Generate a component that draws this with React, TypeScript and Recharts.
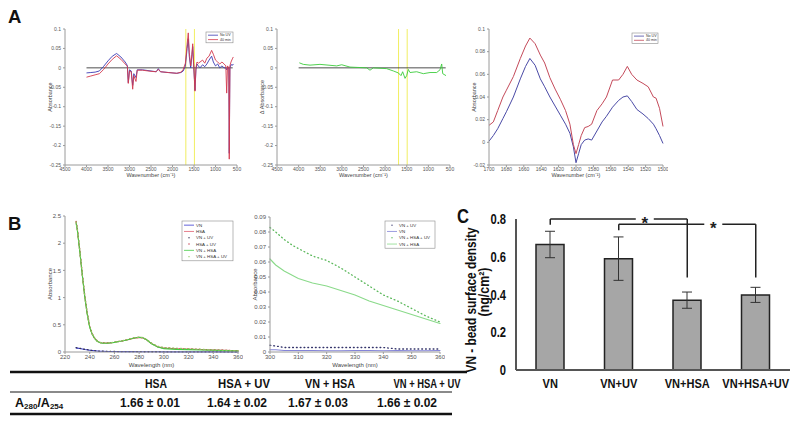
import React from 'react';
import { LineChart, Line, XAxis, YAxis, ReferenceLine, BarChart, Bar, ErrorBar } from 'recharts';

// ---- panel A1: FTIR spectra, no UV vs 40 min ----
const ftirWavenumber = [4000, 3900, 3800, 3700, 3600, 3500, 3400, 3300, 3200, 3100, 3050, 3028, 3000, 2960, 2926, 2900, 2849, 2820, 2700, 2500, 2380, 2330, 2280, 2100, 1900, 1800, 1750, 1700, 1660, 1633, 1610, 1577, 1550, 1530, 1510, 1490, 1477, 1455, 1430, 1400, 1360, 1300, 1250, 1200, 1150, 1090, 1050, 1000, 950, 900, 850, 800, 760, 740, 720, 690, 680, 665, 640, 600, 586];
const ftirNoUv = [-0.013, -0.012, -0.011, -0.008, 0.004, 0.018, 0.03, 0.037, 0.028, 0.015, 0.006, -0.038, -0.005, -0.008, -0.045, -0.015, -0.025, -0.005, -0.005, -0.008, -0.01, -0.002, -0.01, -0.012, -0.014, -0.012, -0.008, 0.005, 0.05, 0.075, 0.03, 0.0, 0.03, 0.055, 0.01, -0.03, -0.058, -0.005, 0.01, 0.005, 0.0, 0.008, 0.003, 0.01, 0.02, 0.03, 0.015, 0.005, 0.01, 0.0, 0.005, 0.0, 0.0, -0.005, 0.0, 0.0, -0.22, 0.0, 0.008, 0.007, 0.01];
const ftir40min = [-0.024, -0.021, -0.018, -0.015, -0.004, 0.01, 0.022, 0.031, 0.022, 0.01, 0.004, -0.04, -0.008, -0.01, -0.055, -0.02, -0.035, -0.006, -0.006, -0.009, -0.01, -0.004, -0.01, -0.012, -0.014, -0.011, -0.004, 0.012, 0.06, 0.09, 0.04, 0.005, 0.035, 0.062, 0.015, -0.03, -0.06, 0.0, 0.015, 0.012, 0.015, 0.02, 0.012, 0.025, 0.03, 0.045, 0.035, 0.02, 0.015, 0.01, 0.015, 0.01, 0.005, -0.065, 0.005, 0.0, -0.235, 0.005, 0.015, 0.025, 0.028];
const ftirTicksX = [4500, 4000, 3500, 3000, 2500, 2000, 1500, 1000, 500];
const ftirTicksY = [0.1, 0.05, 0, -0.05, -0.1, -0.15, -0.2, -0.25];
const amideBand = [1690, 1490];
const baselineSpan = [4000, 600];

// ---- panel A2: difference spectrum ----
const diffWavenumber = [3984, 3892, 3737, 3506, 3120, 3004, 2812, 2426, 2350, 2273, 1964, 1810, 1695, 1633, 1595, 1540, 1502, 1464, 1425, 1270, 1116, 962, 808, 731, 692, 668, 592];
const diffValues = [0.013, 0.009, 0.007, 0.009, 0.005, 0.008, 0.002, 0.0, -0.006, 0.0, -0.002, -0.008, -0.013, -0.02, -0.01, -0.027, -0.02, -0.004, -0.012, -0.01, -0.015, -0.012, -0.012, -0.005, 0.01, -0.015, -0.02];

// ---- panel A3: amide I / II close-up ----
const amideWavenumber = [1700, 1695, 1690, 1684, 1680, 1672, 1664, 1658, 1653, 1647, 1641, 1636, 1630, 1624, 1618, 1612, 1607, 1603, 1600, 1597, 1594, 1590, 1586, 1582, 1576, 1570, 1565, 1558, 1551, 1546, 1541, 1536, 1530, 1523, 1517, 1511, 1508, 1504, 1500];
const amideNoUv = [0.001, 0.006, 0.012, 0.021, 0.027, 0.04, 0.056, 0.067, 0.074, 0.068, 0.056, 0.049, 0.04, 0.032, 0.024, 0.016, 0.008, -0.004, -0.018, -0.01, -0.002, 0.002, 0.003, 0.002, 0.01, 0.018, 0.023, 0.031, 0.037, 0.04, 0.041, 0.036, 0.029, 0.025, 0.021, 0.016, 0.012, 0.006, -0.001];
const amide40min = [0.015, 0.018, 0.028, 0.04, 0.046, 0.058, 0.074, 0.085, 0.092, 0.087, 0.077, 0.07, 0.057, 0.047, 0.038, 0.028, 0.016, -0.002, -0.01, -0.002, 0.006, 0.013, 0.014, 0.016, 0.028, 0.034, 0.04, 0.055, 0.055, 0.06, 0.067, 0.06, 0.055, 0.052, 0.049, 0.04, 0.039, 0.03, 0.014];
const amideTicksX = [1700, 1680, 1660, 1640, 1620, 1600, 1580, 1560, 1540, 1520, 1500];
const amideTicksY = [-0.02, 0, 0.02, 0.04, 0.06, 0.08, 0.1];

// ---- panel B1: UV-vis full range ----
const uvWavelength = [229, 230, 232, 234, 236, 238, 240, 242, 244, 246, 248, 250, 255, 260, 265, 270, 275, 280, 283, 286, 290, 295, 300, 310, 320, 330, 340, 350, 360];
const uvVn = [0.075, 0.072, 0.065, 0.056, 0.047, 0.04, 0.033, 0.027, 0.022, 0.018, 0.015, 0.013, 0.01, 0.008, 0.007, 0.006, 0.006, 0.005, 0.005, 0.005, 0.004, 0.004, 0.003, 0.003, 0.002, 0.002, 0.002, 0.002, 0.002];
const uvVnUv = [0.08, 0.076, 0.068, 0.058, 0.049, 0.042, 0.035, 0.029, 0.024, 0.02, 0.016, 0.014, 0.011, 0.009, 0.008, 0.007, 0.006, 0.006, 0.005, 0.005, 0.005, 0.005, 0.004, 0.003, 0.003, 0.003, 0.003, 0.002, 0.002];
const uvHsa = [2.38, 2.25, 1.85, 1.42, 1.02, 0.7, 0.46, 0.33, 0.25, 0.2, 0.175, 0.165, 0.163, 0.178, 0.198, 0.222, 0.25, 0.268, 0.26, 0.225, 0.155, 0.095, 0.072, 0.06, 0.052, 0.045, 0.037, 0.029, 0.021];
const uvHsaUv = [2.4, 2.26, 1.86, 1.43, 1.03, 0.71, 0.47, 0.335, 0.255, 0.205, 0.178, 0.167, 0.165, 0.18, 0.2, 0.225, 0.252, 0.27, 0.262, 0.228, 0.158, 0.097, 0.075, 0.062, 0.054, 0.046, 0.038, 0.03, 0.021];
const uvVnHsa = [2.36, 2.24, 1.84, 1.41, 1.01, 0.69, 0.455, 0.325, 0.248, 0.198, 0.173, 0.163, 0.162, 0.177, 0.197, 0.222, 0.252, 0.27, 0.262, 0.226, 0.152, 0.09, 0.062, 0.049, 0.044, 0.038, 0.031, 0.025, 0.019];
const uvVnHsaUv = [2.39, 2.26, 1.86, 1.43, 1.03, 0.71, 0.468, 0.335, 0.255, 0.204, 0.177, 0.167, 0.166, 0.181, 0.201, 0.226, 0.256, 0.275, 0.267, 0.232, 0.162, 0.105, 0.083, 0.069, 0.061, 0.05, 0.038, 0.029, 0.02];
const uvTicksX = [220, 240, 260, 280, 300, 320, 340, 360];
const uvTicksY = [0, 0.5, 1, 1.5, 2, 2.5];

// ---- panel B2: 300-360 nm close-up ----
const tailWavelength = [300, 302, 305, 308, 310, 315, 320, 325, 330, 335, 340, 345, 350, 355, 360];
const tailVnUv = [0.0045, 0.004, 0.003, 0.003, 0.003, 0.003, 0.003, 0.003, 0.003, 0.003, 0.003, 0.002, 0.002, 0.002, 0.002];
const tailVn = [0.0015, 0.0015, 0.001, 0.001, 0.001, 0.001, 0.0008, 0.0008, 0.001, 0.001, 0.0008, 0.001, 0.0008, 0.0008, 0.001];
const tailVnHsaUv = [0.083, 0.08, 0.075, 0.071, 0.069, 0.064, 0.061, 0.056, 0.05, 0.044, 0.038, 0.034, 0.029, 0.024, 0.02];
const tailVnHsa = [0.062, 0.058, 0.054, 0.051, 0.049, 0.046, 0.044, 0.041, 0.038, 0.034, 0.031, 0.028, 0.025, 0.022, 0.019];
const tailTicksX = [300, 310, 320, 330, 340, 350, 360];
const tailTicksY = [0, 0.01, 0.02, 0.03, 0.04, 0.05, 0.06, 0.07, 0.08, 0.09];

// ---- panel C: bead surface density ----
const densityGroups = ['VN', 'VN+UV', 'VN+HSA', 'VN+HSA+UV'];
const densityMean = [0.665, 0.59, 0.37, 0.398];
const densitySd = [0.07, 0.115, 0.043, 0.04];
const densityTicks = [0, 0.2, 0.4, 0.6, 0.8];

// ---- table ----
const ratioHeaders = ['HSA', 'HSA + UV', 'VN + HSA', 'VN + HSA + UV'];
const ratioValues = ['1.66 ± 0.01', '1.64 ± 0.02', '1.67 ± 0.03', '1.66 ± 0.02'];

const ftirSeries = [
  { key: 'noUv', label: 'No UV', color: '#3b3bb3' },
  { key: 'min40', label: '40 min', color: '#d43a4e' },
];
const amideSeries = [
  { key: 'noUv', label: 'No UV', color: '#4a4aa6' },
  { key: 'min40', label: '40 min', color: '#c44a5a' },
];
const uvSeries = [
  { key: 'vn', label: 'VN', color: '#3a3ad0', dotted: false },
  { key: 'hsa', label: 'HSA', color: '#e06070', dotted: false },
  { key: 'vnUv', label: 'VN + UV', color: '#333355', dotted: true },
  { key: 'hsaUv', label: 'HSA + UV', color: '#c03040', dotted: true },
  { key: 'vnHsa', label: 'VN + HSA', color: '#44cc44', dotted: false },
  { key: 'vnHsaUv', label: 'VN + HSA + UV', color: '#8cc860', dotted: true },
];
const tailSeries = [
  { key: 'vnUv', label: 'VN + UV', color: '#33336a', dotted: true },
  { key: 'vn', label: 'VN', color: '#8484d8', dotted: false },
  { key: 'vnHsaUv', label: 'VN + HSA + UV', color: '#5cb85c', dotted: true },
  { key: 'vnHsa', label: 'VN + HSA', color: '#8ada8a', dotted: false },
];

const ftirRows = ftirWavenumber.map((w, i) => ({ w, noUv: ftirNoUv[i], min40: ftir40min[i] }));
const diffRows = diffWavenumber.map((w, i) => ({ w, diff: diffValues[i] }));
const amideRows = amideWavenumber.map((w, i) => ({ w, noUv: amideNoUv[i], min40: amide40min[i] }));
const uvRows = uvWavelength.map((w, i) => ({
  w, vn: uvVn[i], vnUv: uvVnUv[i], hsa: uvHsa[i], hsaUv: uvHsaUv[i], vnHsa: uvVnHsa[i], vnHsaUv: uvVnHsaUv[i],
}));
const tailRows = tailWavelength.map((w, i) => ({ w, vnUv: tailVnUv[i], vn: tailVn[i], vnHsaUv: tailVnHsaUv[i], vnHsa: tailVnHsa[i] }));
const densityRows = densityGroups.map((name, i) => ({ name, density: densityMean[i], sd: densitySd[i] }));

const sans = "'Liberation Sans', Arial, sans-serif";
const frameColor = '#9a9a9a';
const tinyTick = { fontSize: 5, fill: '#555', fontFamily: sans };
const smallTick = { fontSize: 6, fill: '#555', fontFamily: sans };
const tinyLabel = { fontSize: 5.5, fill: '#444', fontFamily: sans };
const smallLabel = { fontSize: 6, fill: '#444', fontFamily: sans };

// grey box on the top and right, matlab style
const frameAxes = (xDomain: number[], yDomain: number[], reversed: boolean) => [
  <XAxis key="xt" xAxisId="top" orientation="top" type="number" domain={xDomain} reversed={reversed} height={0} tick={false} tickLine={false} stroke={frameColor} />,
  <YAxis key="yr" yAxisId="right" orientation="right" type="number" domain={yDomain} width={0} tick={false} tickLine={false} stroke={frameColor} />,
];

// the bold labels in panel C are set in a condensed face
const CondensedTick = (props: any) => {
  const { x, y, payload, textAnchor, fontSize, squeeze, dy } = props;
  return (
    <g transform={`translate(${x},${y}) scale(${squeeze},1)`}>
      <text textAnchor={textAnchor} dy={dy} fontSize={fontSize} fontWeight="bold" fontFamily={sans} fill="#111">{payload.value}</text>
    </g>
  );
};

const StarGap = (props: any) => {
  const { viewBox } = props;
  const cx = viewBox.x + viewBox.width * 0.69;
  return (
    <g>
      <rect x={cx - 9} y={viewBox.y - 4} width={18} height={8} fill="#fff" />
      <text x={cx} y={viewBox.y + 10} textAnchor="middle" fontSize={17} fontWeight="bold" fontFamily={sans} fill="#222">*</text>
    </g>
  );
};

const BoxLegend = ({ x, y, w, rowH, fontSize, items }: any) => (
  <g>
    <rect x={x} y={y} width={w} height={items.length * rowH + 2} fill="#fff" stroke="#8a8a8a" strokeWidth={0.6} />
    {items.map((it: any, i: number) => {
      const cy = y + 1 + rowH * (i + 0.5);
      return (
        <g key={it.label}>
          {it.dotted ? (
            <circle cx={x + 7} cy={cy} r={0.7} fill={it.color} />
          ) : (
            <line x1={x + 2} x2={x + 12} y1={cy} y2={cy} stroke={it.color} strokeWidth={0.8} />
          )}
          <text x={x + 14} y={cy} fontSize={fontSize} fill="#333" fontFamily={sans} dominantBaseline="central">{it.label}</text>
        </g>
      );
    })}
  </g>
);

const App: React.FC = () => {
  return (
    <div style={{ position: 'relative', width: 800, height: 423, background: '#fff', overflow: 'hidden' }}>
      <style>{'body{margin:0}'}</style>

      {/* A1 */}
      <div style={{ position: 'absolute', left: 25, top: 24 }}>
        <LineChart width={217} height={163} data={ftirRows} margin={{ top: 5, right: 5, left: 0, bottom: 0 }}>
          <XAxis dataKey="w" type="number" domain={[500, 4500]} reversed ticks={ftirTicksX} interval={0} tick={tinyTick} tickSize={2} tickMargin={0} height={22} stroke={frameColor}
            label={{ value: 'Wavenumber (cm⁻¹)', position: 'insideBottom', offset: 10, ...tinyLabel }} />
          <YAxis type="number" domain={[-0.25, 0.1]} ticks={ftirTicksY} interval={0} tick={tinyTick} tickSize={2} tickMargin={2} width={40} stroke={frameColor}
            label={{ value: 'Absorbance', angle: -90, position: 'center', dx: 5, ...tinyLabel }} />
          {frameAxes([500, 4500], [-0.25, 0.1], true)}
          {amideBand.map((b) => <ReferenceLine key={b} x={b} stroke="#eeea3a" strokeWidth={0.8} />)}
          <ReferenceLine segment={[{ x: baselineSpan[0], y: 0 }, { x: baselineSpan[1], y: 0 }]} stroke="#222" strokeWidth={0.8} />
          {ftirSeries.map((s) => (
            <Line key={s.key} dataKey={s.key} stroke={s.color} strokeWidth={0.9} dot={false} isAnimationActive={false} />
          ))}
        </LineChart>
      </div>

      {/* A2 */}
      <div style={{ position: 'absolute', left: 237, top: 24 }}>
        <LineChart width={218} height={163} data={diffRows} margin={{ top: 5, right: 5, left: 0, bottom: 0 }}>
          <XAxis dataKey="w" type="number" domain={[500, 4500]} reversed ticks={ftirTicksX} interval={0} tick={tinyTick} tickSize={2} tickMargin={0} height={22} stroke={frameColor}
            label={{ value: 'Wavenumber (cm⁻¹)', position: 'insideBottom', offset: 10, ...tinyLabel }} />
          <YAxis type="number" domain={[-0.25, 0.1]} ticks={ftirTicksY} interval={0} tick={tinyTick} tickSize={2} tickMargin={2} width={40} stroke={frameColor}
            label={{ value: 'Δ Absorbance', angle: -90, position: 'center', dx: 5, ...tinyLabel }} />
          {frameAxes([500, 4500], [-0.25, 0.1], true)}
          {amideBand.map((b) => <ReferenceLine key={b} x={b} stroke="#eeea3a" strokeWidth={0.8} />)}
          <ReferenceLine segment={[{ x: baselineSpan[0], y: 0 }, { x: baselineSpan[1], y: 0 }]} stroke="#222" strokeWidth={0.8} />
          <Line dataKey="diff" stroke="#3ccc3c" strokeWidth={0.9} dot={false} isAnimationActive={false} />
        </LineChart>
      </div>

      {/* A3 */}
      <div style={{ position: 'absolute', left: 449, top: 24 }}>
        <LineChart width={219} height={163} data={amideRows} margin={{ top: 5, right: 5, left: 0, bottom: 0 }}>
          <XAxis dataKey="w" type="number" domain={[1500, 1700]} reversed ticks={amideTicksX} interval={0} tick={tinyTick} tickSize={2} tickMargin={0} height={22} stroke={frameColor}
            label={{ value: 'Wavenumber (cm⁻¹)', position: 'insideBottom', offset: 10, ...tinyLabel }} />
          <YAxis type="number" domain={[-0.02, 0.1]} ticks={amideTicksY} interval={0} tick={tinyTick} tickSize={2} tickMargin={2} width={40} stroke={frameColor}
            label={{ value: 'Absorbance', angle: -90, position: 'center', dx: 5, ...tinyLabel }} />
          {frameAxes([1500, 1700], [-0.02, 0.1], true)}
          {amideSeries.map((s) => (
            <Line key={s.key} dataKey={s.key} stroke={s.color} strokeWidth={1} dot={false} isAnimationActive={false} />
          ))}
        </LineChart>
      </div>

      {/* B1 */}
      <div style={{ position: 'absolute', left: 25, top: 211 }}>
        <LineChart width={218} height={163} data={uvRows} margin={{ top: 5, right: 5, left: 0, bottom: 0 }}>
          <XAxis dataKey="w" type="number" domain={[220, 360]} ticks={uvTicksX} interval={0} tick={smallTick} tickSize={2} tickMargin={1} height={22} stroke={frameColor}
            label={{ value: 'Wavelength (nm)', position: 'insideBottom', offset: 7, ...smallLabel }} />
          <YAxis type="number" domain={[0, 2.5]} ticks={uvTicksY} interval={0} tick={smallTick} tickSize={2} tickMargin={2} width={40} stroke={frameColor}
            label={{ value: 'Absorbance', angle: -90, position: 'center', dx: 5, ...smallLabel }} />
          {frameAxes([220, 360], [0, 2.5], false)}
          {['hsa', 'hsaUv', 'vn', 'vnUv', 'vnHsa', 'vnHsaUv'].map((k) => {
            const s = uvSeries.find((u) => u.key === k)!;
            return (
              <Line key={k} dataKey={k} stroke={s.color} strokeWidth={s.dotted ? 1.3 : 1.1} strokeDasharray={s.dotted ? '0.8 3' : undefined}
                strokeLinecap="round" dot={false} isAnimationActive={false} />
            );
          })}
        </LineChart>
      </div>

      {/* B2 */}
      <div style={{ position: 'absolute', left: 230, top: 212 }}>
        <LineChart width={215} height={162} data={tailRows} margin={{ top: 5, right: 5, left: 0, bottom: 0 }}>
          <XAxis dataKey="w" type="number" domain={[300, 360]} ticks={tailTicksX} interval={0} tick={smallTick} tickSize={2} tickMargin={1} height={22} stroke={frameColor}
            label={{ value: 'Wavelength (nm)', position: 'insideBottom', offset: 7, ...smallLabel }} />
          <YAxis type="number" domain={[0, 0.09]} ticks={tailTicksY} interval={0} tick={smallTick} tickSize={2} tickMargin={2} width={40} stroke={frameColor}
            label={{ value: 'Absorbance', angle: -90, position: 'center', dx: 5, ...smallLabel }} />
          {frameAxes([300, 360], [0, 0.09], false)}
          {tailSeries.map((s) => (
            <Line key={s.key} dataKey={s.key} stroke={s.color} strokeWidth={s.dotted ? 1.3 : 1.1} strokeDasharray={s.dotted ? '0.8 3' : undefined}
              strokeLinecap="round" dot={false} isAnimationActive={false} />
          ))}
        </LineChart>
      </div>

      {/* C */}
      <div style={{ position: 'absolute', left: 440, top: 200 }}>
        <BarChart width={360} height={223} data={densityRows} margin={{ top: 19, right: 10, left: 0, bottom: 0 }} barSize={28}>
          <XAxis dataKey="name" height={53} tickLine={false} tickSize={6} tickMargin={2} interval={0} axisLine={{ stroke: '#555', strokeWidth: 2 }}
            tick={<CondensedTick fontSize={13} squeeze={0.85} dy={10} />} />
          <YAxis type="number" domain={[0, 0.8]} ticks={densityTicks} interval={0} width={76} tickLine={false} tickSize={4} tickMargin={6}
            axisLine={{ stroke: '#555', strokeWidth: 2 }} tick={<CondensedTick fontSize={14} squeeze={0.8} dy={5} />} />
          <Bar dataKey="density" fill="#a6a6a6" stroke="#222" strokeWidth={1.5} isAnimationActive={false}>
            <ErrorBar dataKey="sd" width={5} stroke="#333" strokeWidth={1} />
          </Bar>
          <ReferenceLine segment={[{ x: 'VN', y: 0.8 }, { x: 'VN+HSA', y: 0.8 }]} stroke="#222" strokeWidth={1.5} label={{ content: StarGap }} />
          <ReferenceLine segment={[{ x: 'VN', y: 0.8 }, { x: 'VN', y: 0.77 }]} stroke="#222" strokeWidth={1.5} />
          <ReferenceLine segment={[{ x: 'VN+HSA', y: 0.8 }, { x: 'VN+HSA', y: 0.49 }]} stroke="#222" strokeWidth={1.5} />
          <ReferenceLine segment={[{ x: 'VN+UV', y: 0.772 }, { x: 'VN+HSA+UV', y: 0.772 }]} stroke="#222" strokeWidth={1.5} label={{ content: StarGap }} />
          <ReferenceLine segment={[{ x: 'VN+UV', y: 0.772 }, { x: 'VN+UV', y: 0.74 }]} stroke="#222" strokeWidth={1.5} />
          <ReferenceLine segment={[{ x: 'VN+HSA+UV', y: 0.772 }, { x: 'VN+HSA+UV', y: 0.49 }]} stroke="#222" strokeWidth={1.5} />
        </BarChart>
      </div>

      {/* panel letters, axis title of C, legends and table */}
      <svg width={800} height={423} style={{ position: 'absolute', left: 0, top: 0, pointerEvents: 'none' }}>
        <text x={8} y={23} fontSize={18.5} fontWeight="bold" fontFamily={sans} fill="#111">A</text>
        <text x={8} y={230} fontSize={18.5} fontWeight="bold" fontFamily={sans} fill="#111">B</text>
        <text x={457} y={223} fontSize={21} fontWeight="bold" fontFamily={sans} fill="#111" textLength={12} lengthAdjust="spacingAndGlyphs">C</text>

        <g fontFamily={sans} fontWeight="bold" fontSize={14} fill="#111">
          <text x={471} y={300} transform="rotate(-90, 471, 300)" textAnchor="middle" dominantBaseline="central" textLength={145} lengthAdjust="spacingAndGlyphs">VN - bead surface density</text>
          <text x={484} y={292} transform="rotate(-90, 484, 292)" textAnchor="middle" dominantBaseline="central" textLength={49} lengthAdjust="spacingAndGlyphs">(ng/cm²)</text>
        </g>

        <BoxLegend x={206} y={32} w={27} rowH={4.4} fontSize={3.6} items={ftirSeries} />
        <BoxLegend x={632} y={33} w={26} rowH={4.2} fontSize={3.6} items={amideSeries} />
        <BoxLegend x={182} y={221} w={51} rowH={6.3} fontSize={4.4} items={uvSeries} />
        <BoxLegend x={385} y={221} w={50} rowH={6.3} fontSize={4.4} items={tailSeries} />

        <line x1={10} x2={467} y1={372} y2={372} stroke="#111" strokeWidth={2.5} />
        <line x1={10} x2={452} y1={392} y2={392} stroke="#8a8a8a" strokeWidth={2.2} />
        <line x1={10} x2={452} y1={414} y2={414} stroke="#111" strokeWidth={2.5} />
        {ratioHeaders.map((h, i) => (
          <text key={h} x={[156, 244, 330, 427][i]} y={387.5} textAnchor="middle" fontSize={13.5} fontWeight="bold" fontFamily={sans} fill="#111"
            textLength={[22, 52, 50, 67][i]} lengthAdjust="spacingAndGlyphs">{h}</text>
        ))}
        <text x={15} y={406.5} fontSize={12.5} fontWeight="bold" fontFamily={sans} fill="#111">
          A<tspan fontSize={8} dy={2.5}>280</tspan><tspan dy={-2.5}>/A</tspan><tspan fontSize={8} dy={2.5}>254</tspan>
        </text>
        {ratioValues.map((v, i) => (
          <text key={i} x={[150, 237, 318, 407][i]} y={406.5} textAnchor="middle" fontSize={12} fontWeight="bold" fontFamily={sans} fill="#111">{v}</text>
        ))}
      </svg>
    </div>
  );
};

export default App;
